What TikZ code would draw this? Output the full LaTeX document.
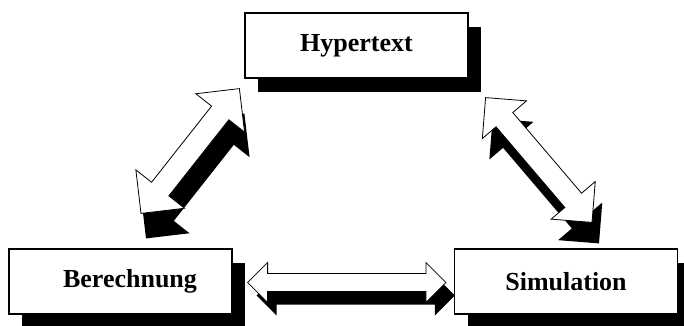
\documentclass[tikz,border=0pt]{standalone}
\usepackage{fontspec}
\setmainfont{Liberation Serif}
\usetikzlibrary{calc,shadows,backgrounds}

% double arrow from #3 to #4, head #1, half shaft #2
\newcommand\fatarrowpath[4]{let \p1=($(#4)-(#3)$), \n1={atan2(\y1,\x1)} in
	(#3) -- ($(#3)+(\n1+45:1.414*#1)$) -- ($(#3)+(\n1:#1)+(\n1+90:#2)$)
	-- ($(#4)+(\n1+180:#1)+(\n1+90:#2)$) -- ($(#4)+(\n1+135:1.414*#1)$)
	-- (#4) -- ($(#4)+(\n1-135:1.414*#1)$) -- ($(#4)+(\n1+180:#1)+(\n1-90:#2)$)
	-- ($(#3)+(\n1:#1)+(\n1-90:#2)$) -- ($(#3)+(\n1-45:1.414*#1)$) -- cycle}
\newcommand\fatarrow[5]{%
	\fill[arrowshade,transform canvas={shift={#3}}] \fatarrowpath{#1}{#2}{#4}{#5};
	\filldraw[arrowbody] \fatarrowpath{#1}{#2}{#4}{#5};}

\tikzset{
	box/.style={draw,fill=white,line width=1.2pt,minimum width=223pt,minimum height=65pt,
		font=\bfseries\fontsize{26}{30}\selectfont,
		drop shadow={shadow xshift=13pt,shadow yshift=-14pt,fill=black,opacity=1}},
	arrowshade/.style={fill=black},
	arrowbody/.style={fill=white,draw=black,line width=.8pt,line join=miter}
}

\begin{document}
\begin{tikzpicture}[x=1pt,y=-1pt]%%%Dreieck
\useasboundingbox (0,0) rectangle (684,325);
\node[box] (hyp) at (356.5,45.5) {Hypertext};
\node[box] (ber) at (120.5,281.5) {\hspace*{19pt}Berechnung};
\node[box] (sim) at (566,281.5) {Simulation};
\coordinate (bh) at ($(ber.north)+(20.5,-35)$);
\coordinate (hb) at ($(hyp.south west)+(-5,10)$);
\coordinate (hs) at ($(hyp.south east)+(17,19)$);
\coordinate (sh) at ($(sim.north)+(26,-26)$);
\coordinate (bs) at ($(ber.east)+(15,1)$);
\coordinate (sb) at ($(sim.west)+(-8,1)$);
\begin{scope}[on background layer]
	\fatarrow{31pt}{11pt}{(5pt,-25pt)}{bh}{hb}
	\fatarrow{29pt}{11pt}{(7pt,-21pt)}{hs}{sh}
	\fatarrow{20pt}{9pt}{(9pt,-13pt)}{bs}{sb}
\end{scope}
\end{tikzpicture}
\end{document}
